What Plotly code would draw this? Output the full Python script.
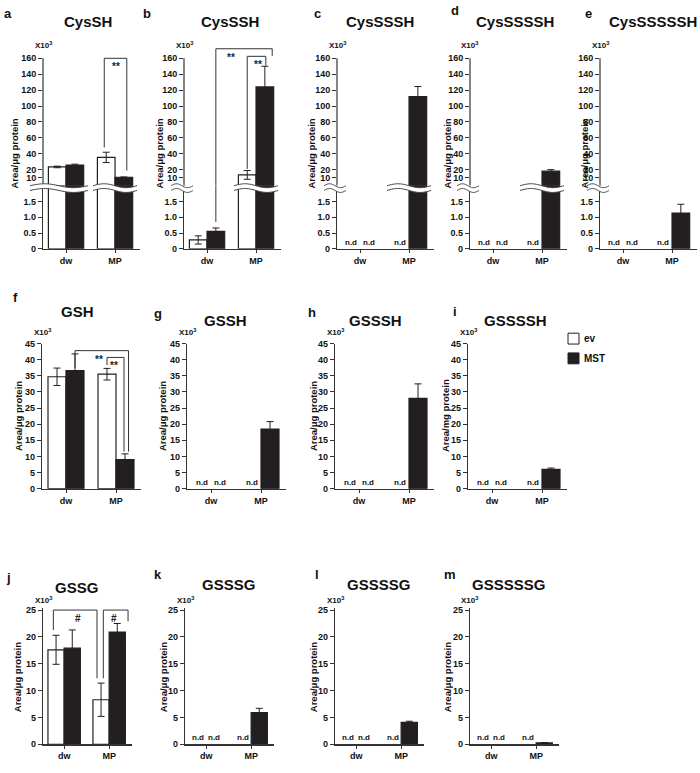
import math
import plotly.graph_objects as go

FIG_W, FIG_H = 700, 773
FONT = "Liberation Sans, Arial, Helvetica, sans-serif"
INK = "#231f20"
AXC = "#333333"

# ---------------- data (values x10^3) ----------------
categories = ["dw", "MP"]
x_idx = [0, 1]

cyssh_ev = [23.5, 35.5]
cyssh_ev_err = [1.0, 6.5]
cyssh_mst = [25.8, 10.5]
cyssh_mst_err = [1.2, 0.4]

cysssh_ev = [0.28, 13.5]
cysssh_ev_err = [0.13, 5.5]
cysssh_mst = [0.55, 124.0]
cysssh_mst_err = [0.11, 26.0]

cyssssh_ev = [None, None]
cyssssh_mst = [None, 112.0]
cyssssh_mst_err = [None, 12.5]

cysssssh_ev = [None, None]
cysssssh_mst = [None, 18.2]
cysssssh_mst_err = [None, 1.9]

cyssssssh_ev = [None, None]
cyssssssh_mst = [None, 1.13]
cyssssssh_mst_err = [None, 0.28]

gsh_ev = [34.7, 35.5]
gsh_ev_err = [2.7, 1.8]
gsh_mst = [36.6, 9.0]
gsh_mst_err = [5.2, 1.8]

gssh_ev = [None, None]
gssh_mst = [None, 18.5]
gssh_mst_err = [None, 2.3]

gsssh_ev = [None, None]
gsssh_mst = [None, 28.0]
gsssh_mst_err = [None, 4.5]

gssssh_ev = [None, None]
gssssh_mst = [None, 6.0]
gssssh_mst_err = [None, 0.4]

gssg_ev = [17.6, 8.3]
gssg_ev_err = [2.7, 3.1]
gssg_mst = [17.9, 20.9]
gssg_mst_err = [3.4, 1.6]

gsssg_ev = [None, None]
gsssg_mst = [None, 5.9]
gsssg_mst_err = [None, 0.8]

gssssg_ev = [None, None]
gssssg_mst = [None, 4.1]
gssssg_mst_err = [None, 0.2]

gsssssg_ev = [None, None]
gsssssg_mst = [None, 0.25]
gsssssg_mst_err = [None, 0.08]

# tick labels
upper_ticks = [10, 20, 40, 60, 80, 100, 120, 140, 160]
upper_ticktext = [str(v) for v in upper_ticks]
lower_ticks = [0, 0.5, 1.0, 1.5]
lower_ticktext = ["0", "0.5", "1.0", "1.5"]
gsh_ticks = [0, 5, 10, 15, 20, 25, 30, 35, 40, 45]
gsh_ticktext = [str(v) for v in gsh_ticks]
gssg_ticks = [0, 5, 10, 15, 20, 25]
gssg_ticktext = [str(v) for v in gssg_ticks]

# ---------------- geometry ----------------
BW = 0.36                      # bar width (category units)
LOW_MAX = 2.0                  # top of lower (broken) segment
UP_MAX = 175.0                 # top of upper segment range

ROW1 = dict(xr=[-0.47, 1.5], unit=49, split=183.0, bottom=247.0, top160=54.0)
ROW2 = dict(xr=[-0.48, 1.5], unit=50, bottom=490.0, top=343.0, yr=[0, 45])
ROW3 = dict(xr=[-0.47, 1.5], unit=45, bottom=749.0, top=613.0, yr=[0, 25.3], topval=25)

panels_row1 = [
    dict(letter="a", title="CysSH", L=43, ev=cyssh_ev, eve=cyssh_ev_err, mst=cyssh_mst, mste=cyssh_mst_err,
         lpos=(8, 9), tpos=(88, 17), tanchor="center", yoff=28,
         brackets=[dict(x0=0.78, x1=1.24, top=160, le=48, re=19, text="**", tx=1.02)]),
    dict(letter="b", title="CysSSH", L=184, ev=cysssh_ev, eve=cysssh_ev_err, mst=cysssh_mst, mste=cysssh_mst_err,
         lpos=(147, 9), tpos=(230, 17), tanchor="center", yoff=24,
         brackets=[dict(x0=0.18, x1=1.33, top=172, le=0.85, re=163, text="**", tx=0.49),
                   dict(x0=0.82, x1=1.20, top=162.5, le=21, re=151, text="**", tx=1.04)]),
    dict(letter="c", title="CysSSSH", L=337, ev=cyssssh_ev, eve=[None, None], mst=cyssssh_mst, mste=cyssssh_mst_err,
         lpos=(317, 9), tpos=(380, 17), tanchor="center", yoff=25, brackets=[]),
    dict(letter="d", title="CysSSSSH", L=470, ev=cysssssh_ev, eve=[None, None], mst=cysssssh_mst, mste=cysssssh_mst_err,
         lpos=(455, 6), tpos=(515, 17), tanchor="center", yoff=22, brackets=[]),
    dict(letter="e", title="CysSSSSSH", L=600, ev=cyssssssh_ev, eve=[None, None], mst=cyssssssh_mst, mste=cyssssssh_mst_err,
         lpos=(588, 9), tpos=(699, 17), tanchor="right", yoff=15, brackets=[]),
]

panels_row2 = [
    dict(letter="f", title="GSH", L=42, ev=gsh_ev, eve=gsh_ev_err, mst=gsh_mst, mste=gsh_mst_err,
         lpos=(15, 296), tpos=(77, 311), tanchor="center", yoff=24, ylabel="Area/μg protein",
         brackets=[dict(x0=0.18, x1=1.25, top=42.8, le=37.5, re=11.5, text="**", tx=0.65),
                   dict(x0=0.82, x1=1.16, top=40.7, le=38.3, re=11.5, text="**", tx=0.96)]),
    dict(letter="g", title="GSSH", L=187, ev=gssh_ev, eve=[None, None], mst=gssh_mst, mste=gssh_mst_err,
         lpos=(158, 313), tpos=(225, 320), tanchor="center", yoff=25, ylabel="Area/μg protein", brackets=[]),
    dict(letter="h", title="GSSSH", L=335, ev=gsssh_ev, eve=[None, None], mst=gsssh_mst, mste=gsssh_mst_err,
         lpos=(312, 312), tpos=(375, 320), tanchor="center", yoff=22, ylabel="Area/μg protein", brackets=[]),
    dict(letter="i", title="GSSSSH", L=468, ev=gssssh_ev, eve=[None, None], mst=gssssh_mst, mste=gssssh_mst_err,
         lpos=(455, 311), tpos=(515, 320), tanchor="center", yoff=23, ylabel="Area/mg protein", brackets=[]),
]

panels_row3 = [
    dict(letter="j", title="GSSG", L=43, ev=gssg_ev, eve=gssg_ev_err, mst=gssg_mst, mste=gssg_mst_err,
         lpos=(8, 580), tpos=(76, 590), tanchor="center", yoff=26,
         brackets=[dict(x0=-0.24, x1=0.73, top=25, le=21.3, re=12.3, text="#", tx=0.31),
                   dict(x0=0.87, x1=1.42, top=25, le=12.3, re=22.9, text="#", tx=1.10)]),
    dict(letter="k", title="GSSSG", L=185, ev=gsssg_ev, eve=[None, None], mst=gsssg_mst, mste=gsssg_mst_err,
         lpos=(158, 577), tpos=(228, 587), tanchor="center", yoff=22, brackets=[]),
    dict(letter="l", title="GSSSSG", L=335, ev=gssssg_ev, eve=[None, None], mst=gssssg_mst, mste=gssssg_mst_err,
         lpos=(317, 577), tpos=(378, 587), tanchor="center", yoff=22, brackets=[]),
    dict(letter="m", title="GSSSSSG", L=470, ev=gsssssg_ev, eve=[None, None], mst=gsssssg_mst, mste=gsssssg_mst_err,
         lpos=(450, 577), tpos=(508, 587), tanchor="center", yoff=23, brackets=[]),
]

# ---------------- helpers ----------------
axes_layout = {}
traces = []
shapes = []
anns = []
counter = [0]


def pxx(p):
    return p / FIG_W


def pxy(p):
    return 1 - p / FIG_H


def tickfont():
    return dict(family=FONT, size=9, color="#111111", weight="bold")


def add_axes(x0px, x1px, ybot, ytop, xr, yr, show_x, yticks, ytext, yline=True):
    counter[0] += 1
    n = counter[0]
    sfx = "" if n == 1 else str(n)
    axes_layout["xaxis" + sfx] = dict(
        domain=[pxx(x0px), pxx(x1px)], range=xr, anchor="y" + sfx, visible=show_x,
        showline=True, linecolor=AXC, linewidth=1.2, ticks="outside", ticklen=3,
        tickwidth=1, tickcolor=AXC, tickvals=x_idx, ticktext=categories,
        tickfont=tickfont(), showgrid=False, zeroline=False, fixedrange=True)
    axes_layout["yaxis" + sfx] = dict(
        domain=[pxy(ybot), pxy(ytop)], range=yr, anchor="x" + sfx,
        showline=yline, linecolor=AXC, linewidth=1.2, ticks="outside", ticklen=4,
        tickwidth=1, tickcolor=AXC, tickvals=yticks, ticktext=ytext,
        tickfont=tickfont(), showgrid=False, zeroline=False, fixedrange=True)
    return sfx


def add_bars(sfx, ev, eve, mst, mste, keep_above=None):
    for vals, errs, fill, off in ((ev, eve, "white", -BW), (mst, mste, INK, 0.0)):
        v = list(vals)
        e = [0 if x is None else x for x in errs]
        if keep_above is not None:
            v = [x if (x is not None and x > keep_above) else None for x in v]
        traces.append(go.Bar(
            x=x_idx, y=v, width=BW, offset=off, xaxis="x" + sfx, yaxis="y" + sfx,
            marker=dict(color=fill, line=dict(color=INK, width=1.2)),
            error_y=dict(type="data", array=e, visible=True, color=INK, thickness=1, width=3.5),
            showlegend=False, hoverinfo="skip"))


def line(sfx, x0, x1, y0, y1):
    shapes.append(dict(type="line", xref="x" + sfx, yref="y" + sfx, x0=x0, x1=x1, y0=y0, y1=y1,
                       line=dict(color=AXC, width=1)))


def sig_text(sfx, x, y, text):
    anns.append(dict(xref="x" + sfx, yref="y" + sfx, x=x, y=y, text="<b>%s</b>" % text, showarrow=False,
                     xanchor="center", yanchor="top", yshift=-1,
                     font=dict(family=FONT, size=10, color="#222222")))


def leg(sfx_up, sfx_lo, x, top, end):
    if sfx_lo is None or end > LOW_MAX:
        line(sfx_up, x, x, top, end)
    else:
        line(sfx_up, x, x, top, 0)
        line(sfx_lo, x, x, LOW_MAX, end)


def nd_labels(sfx, ev, mst):
    for vals, off in ((ev, -BW / 2), (mst, BW / 2)):
        for i, v in enumerate(vals):
            if v is None:
                anns.append(dict(xref="x" + sfx, yref="y" + sfx, x=x_idx[i] + off, y=0,
                                 text="<b>n.d</b>", showarrow=False, xanchor="center",
                                 yanchor="bottom", yshift=0,
                                 font=dict(family=FONT, size=8, color="#111111")))


def panel_texts(p, axis_x, x10_y, yc, ylabel):
    anns.append(dict(xref="paper", yref="paper", x=pxx(p["lpos"][0]), y=pxy(p["lpos"][1]),
                     text="<b>%s</b>" % p["letter"], showarrow=False, xanchor="center", yanchor="middle",
                     font=dict(family=FONT, size=13, color="#111111")))
    anns.append(dict(xref="paper", yref="paper", x=pxx(p["tpos"][0]), y=pxy(p["tpos"][1]),
                     text="<b>%s</b>" % p["title"], showarrow=False, xanchor=p["tanchor"], yanchor="middle",
                     font=dict(family=FONT, size=15, color="#111111")))
    anns.append(dict(xref="paper", yref="paper", x=pxx(axis_x), y=pxy(x10_y),
                     text="<b>X10<sup>3</sup></b>", showarrow=False, xanchor="center", yanchor="middle",
                     font=dict(family=FONT, size=8, color="#111111")))
    anns.append(dict(xref="paper", yref="paper", x=pxx(axis_x - p["yoff"]), y=pxy(yc),
                     text="<b>%s</b>" % ylabel, showarrow=False, textangle=-90,
                     xanchor="center", yanchor="middle",
                     font=dict(family=FONT, size=9.5, color="#111111")))


def break_band(xa, xb, yc, gap=2.4, amp=2.0):
    length = xb - xa
    k = max(1, round(length / 44.0))
    n = 30
    xs = [xa + length * i / n for i in range(n + 1)]
    up = [yc - gap - amp * math.sin(2 * math.pi * k * (x - xa) / length) for x in xs]
    lo = [yc + gap - amp * math.sin(2 * math.pi * k * (x - xa) / length) for x in xs]
    pts_u = ["%.5f,%.5f" % (pxx(x), pxy(y)) for x, y in zip(xs, up)]
    pts_l = ["%.5f,%.5f" % (pxx(x), pxy(y)) for x, y in zip(xs, lo)]
    fill = "M" + " L".join(pts_u) + " L" + " L".join(reversed(pts_l)) + " Z"
    shapes.append(dict(type="path", xref="paper", yref="paper", path=fill,
                       fillcolor="white", line=dict(width=0), layer="above"))
    for pts in (pts_u, pts_l):
        shapes.append(dict(type="path", xref="paper", yref="paper", path="M" + " L".join(pts),
                           line=dict(color="#444444", width=1), layer="above"))


# ---------------- row 1 (broken axes) ----------------
r = ROW1
scale_up = (r["split"] - r["top160"]) / 160.0
up_top_px = r["split"] - UP_MAX * scale_up
for p in panels_row1:
    L = p["L"]
    R = L + (r["xr"][1] - r["xr"][0]) * r["unit"]
    s_up = add_axes(L, R, r["split"], up_top_px, r["xr"], [0, UP_MAX], False,
                    upper_ticks, upper_ticktext, yline=False)
    s_lo = add_axes(L, R, r["bottom"], r["split"], r["xr"], [0, LOW_MAX], True,
                    lower_ticks, lower_ticktext, yline=True)
    # manual spine for the upper segment (0 .. 160)
    shapes.append(dict(type="line", xref="x%s domain" % s_up, yref="y" + s_up, x0=0, x1=0,
                       y0=0, y1=160, line=dict(color=AXC, width=1.2)))
    add_bars(s_up, p["ev"], p["eve"], p["mst"], p["mste"], keep_above=LOW_MAX)
    add_bars(s_lo, p["ev"], p["eve"], p["mst"], p["mste"])
    nd_labels(s_lo, p["ev"], p["mst"])
    for b in p["brackets"]:
        line(s_up, b["x0"], b["x1"], b["top"], b["top"])
        leg(s_up, s_lo, b["x0"], b["top"], b["le"])
        leg(s_up, s_lo, b["x1"], b["top"], b["re"])
        sig_text(s_up, b["tx"], b["top"], b["text"])
    panel_texts(p, L, 41, (r["top160"] + r["bottom"]) / 2, "Area/μg protein")
    # break marks: on the axis and across groups whose bars pass the break
    intervals = [[L - 13, L + 9]]
    for gi in range(2):
        vals = [p["ev"][gi], p["mst"][gi]]
        if any(v is not None and v > LOW_MAX for v in vals):
            c = L + (x_idx[gi] - r["xr"][0]) * r["unit"]
            intervals.append([c - 22, c + 22])
    intervals.sort()
    merged = []
    for iv in intervals:
        if merged and iv[0] <= merged[-1][1]:
            merged[-1][1] = max(merged[-1][1], iv[1])
        else:
            merged.append(list(iv))
    for a, b2 in merged:
        break_band(a, b2, 185.5)

# ---------------- row 2 ----------------
r = ROW2
for p in panels_row2:
    L = p["L"]
    R = L + (r["xr"][1] - r["xr"][0]) * r["unit"]
    s = add_axes(L, R, r["bottom"], r["top"], r["xr"], r["yr"], True, gsh_ticks, gsh_ticktext)
    add_bars(s, p["ev"], p["eve"], p["mst"], p["mste"])
    nd_labels(s, p["ev"], p["mst"])
    for b in p["brackets"]:
        line(s, b["x0"], b["x1"], b["top"], b["top"])
        line(s, b["x0"], b["x0"], b["top"], b["le"])
        line(s, b["x1"], b["x1"], b["top"], b["re"])
        sig_text(s, b["tx"], b["top"], b["text"])
    panel_texts(p, L, 331, (r["top"] + r["bottom"]) / 2, p["ylabel"])

# ---------------- row 3 ----------------
r = ROW3
sc3 = (r["bottom"] - r["top"]) / r["topval"]
top3 = r["bottom"] - r["yr"][1] * sc3
for p in panels_row3:
    L = p["L"]
    R = L + (r["xr"][1] - r["xr"][0]) * r["unit"]
    s = add_axes(L, R, r["bottom"], top3, r["xr"], r["yr"], True, gssg_ticks, gssg_ticktext)
    add_bars(s, p["ev"], p["eve"], p["mst"], p["mste"])
    nd_labels(s, p["ev"], p["mst"])
    for b in p["brackets"]:
        line(s, b["x0"], b["x1"], b["top"], b["top"])
        line(s, b["x0"], b["x0"], b["top"], b["le"])
        line(s, b["x1"], b["x1"], b["top"], b["re"])
        sig_text(s, b["tx"], b["top"], b["text"])
    panel_texts(p, L, 603, (r["top"] + r["bottom"]) / 2, "Area/μg protein")

# ---------------- legend ----------------
legend_items = [("ev", "white"), ("MST", INK)]
for i, (name, col) in enumerate(legend_items):
    yc = 338 + i * 20
    shapes.append(dict(type="rect", xref="paper", yref="paper",
                       x0=pxx(568), x1=pxx(579), y0=pxy(yc + 5.5), y1=pxy(yc - 5.5),
                       fillcolor=col, line=dict(color=INK, width=1)))
    anns.append(dict(xref="paper", yref="paper", x=pxx(582), y=pxy(yc), text="<b>%s</b>" % name,
                     showarrow=False, xanchor="left", yanchor="middle",
                     font=dict(family=FONT, size=10, color="#111111")))

fig = go.Figure(data=traces)
fig.update_layout(
    width=FIG_W, height=FIG_H, margin=dict(l=0, r=0, t=0, b=0),
    paper_bgcolor="white", plot_bgcolor="rgba(0,0,0,0)",
    barmode="overlay", showlegend=False, hovermode=False,
    shapes=shapes, annotations=anns,
    font=dict(family=FONT, color="#111111"),
    **axes_layout)
fig.write_html(
    "out.html",
    config={"displayModeBar": False, "staticPlot": True},
    post_script=("document.body.style.margin='0';"
                 "document.body.style.overflow='hidden';"
                 "document.documentElement.style.overflow='hidden';"))
